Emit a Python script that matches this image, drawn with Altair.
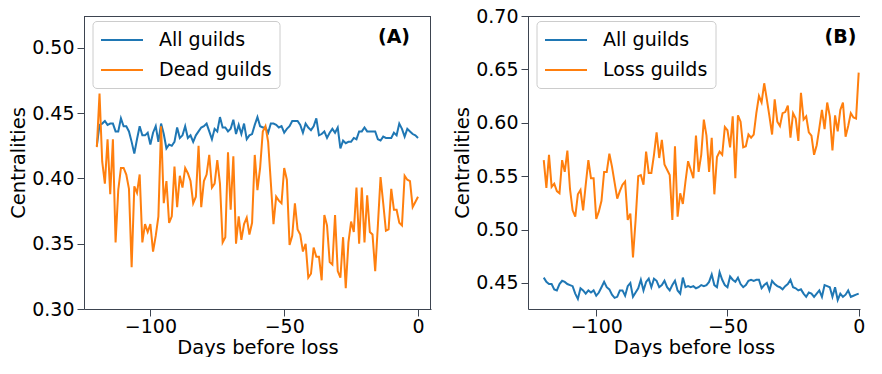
import altair as alt
import pandas as pd

days = list(range(-120, 1))

all_guilds_a = [
    0.425, 0.441, 0.442, 0.444, 0.441, 0.442, 0.442, 0.436, 0.436, 0.446,
    0.440, 0.440, 0.436, 0.428, 0.419, 0.430, 0.440, 0.433, 0.433, 0.435,
    0.426, 0.435, 0.440, 0.428, 0.442, 0.434, 0.423, 0.426, 0.425, 0.428,
    0.439, 0.431, 0.433, 0.440, 0.431, 0.433, 0.428, 0.433, 0.436, 0.439,
    0.440, 0.442, 0.436, 0.430, 0.438, 0.436, 0.447, 0.439, 0.439, 0.436,
    0.438, 0.445, 0.434, 0.441, 0.434, 0.442, 0.430, 0.433, 0.434, 0.441,
    0.447, 0.440, 0.439, 0.439, 0.435, 0.442, 0.442, 0.441, 0.439, 0.440,
    0.435, 0.438, 0.440, 0.444, 0.444, 0.444, 0.441, 0.435, 0.442, 0.439,
    0.437, 0.440, 0.446, 0.433, 0.434, 0.436, 0.431, 0.435, 0.438, 0.435,
    0.439, 0.423, 0.429, 0.427, 0.428, 0.428, 0.431, 0.430, 0.436, 0.436,
    0.439, 0.436, 0.436, 0.436, 0.436, 0.430, 0.429, 0.432, 0.431, 0.431,
    0.431, 0.435, 0.433, 0.442, 0.438, 0.432, 0.438, 0.436, 0.434, 0.433,
    0.431,
]

dead_guilds_a = [
    0.424, 0.465, 0.413, 0.396, 0.430, 0.388, 0.430, 0.351, 0.391, 0.408,
    0.408, 0.403, 0.392, 0.332, 0.394, 0.389, 0.403, 0.351, 0.365, 0.359,
    0.365, 0.344, 0.356, 0.371, 0.440, 0.381, 0.398, 0.366, 0.371, 0.409,
    0.378, 0.402, 0.393, 0.408, 0.404, 0.398, 0.381, 0.386, 0.425, 0.378,
    0.398, 0.403, 0.418, 0.393, 0.396, 0.414, 0.396, 0.351, 0.355, 0.420,
    0.376, 0.417, 0.350, 0.371, 0.353, 0.365, 0.370, 0.357, 0.366, 0.418,
    0.391, 0.408, 0.436, 0.440, 0.428, 0.397, 0.365, 0.386, 0.383, 0.381,
    0.408, 0.399, 0.349, 0.356, 0.381, 0.361, 0.357, 0.344, 0.350, 0.324,
    0.327, 0.347, 0.340, 0.340, 0.322, 0.372, 0.364, 0.336, 0.334, 0.372,
    0.329, 0.324, 0.355, 0.316, 0.351, 0.367, 0.359, 0.393, 0.350, 0.393,
    0.351, 0.387, 0.359, 0.357, 0.329, 0.364, 0.401, 0.381, 0.360, 0.361,
    0.392, 0.376, 0.376, 0.366, 0.364, 0.402, 0.399, 0.398, 0.378, 0.382,
    0.386,
]

all_guilds_b = [
    0.455, 0.451, 0.449, 0.449, 0.444, 0.443, 0.449, 0.452, 0.451, 0.449,
    0.448, 0.447, 0.440, 0.435, 0.445, 0.443, 0.440, 0.443, 0.441, 0.443,
    0.438, 0.441, 0.446, 0.451, 0.446, 0.444, 0.439, 0.436, 0.437, 0.443,
    0.443, 0.438, 0.447, 0.450, 0.437, 0.441, 0.445, 0.453, 0.443, 0.451,
    0.454, 0.446, 0.454, 0.452, 0.446, 0.448, 0.452, 0.446, 0.443, 0.448,
    0.452, 0.443, 0.440, 0.455, 0.446, 0.447, 0.446, 0.447, 0.445, 0.446,
    0.448, 0.447, 0.448, 0.451, 0.458, 0.448, 0.446, 0.460, 0.453, 0.448,
    0.446, 0.456, 0.453, 0.451, 0.455, 0.449, 0.446, 0.448, 0.452, 0.453,
    0.452, 0.453, 0.453, 0.445, 0.448, 0.450, 0.443, 0.452, 0.449, 0.447,
    0.446, 0.444, 0.447, 0.449, 0.453, 0.446, 0.445, 0.443, 0.444, 0.440,
    0.437, 0.441, 0.440, 0.437, 0.440, 0.443, 0.437, 0.448, 0.447, 0.446,
    0.437, 0.446, 0.434, 0.440, 0.437, 0.439, 0.443, 0.437, 0.438, 0.439,
    0.440,
]

loss_guilds_b = [
    0.565, 0.539, 0.570, 0.540, 0.543, 0.536, 0.534, 0.565, 0.554, 0.574,
    0.538, 0.518, 0.512, 0.533, 0.537, 0.518, 0.542, 0.565, 0.548, 0.548,
    0.510, 0.517, 0.527, 0.554, 0.554, 0.571, 0.559, 0.544, 0.529, 0.536,
    0.542, 0.545, 0.509, 0.515, 0.474, 0.509, 0.550, 0.551, 0.542, 0.573,
    0.553, 0.553, 0.570, 0.591, 0.567, 0.584, 0.561, 0.556, 0.551, 0.509,
    0.578, 0.512, 0.534, 0.524, 0.545, 0.564, 0.556, 0.548, 0.588, 0.554,
    0.570, 0.603, 0.588, 0.554, 0.586, 0.533, 0.568, 0.573, 0.570, 0.596,
    0.593, 0.577, 0.606, 0.548, 0.607, 0.601, 0.577, 0.578, 0.589, 0.586,
    0.589, 0.609, 0.625, 0.619, 0.637, 0.622, 0.606, 0.589, 0.622, 0.601,
    0.597, 0.609, 0.610, 0.616, 0.586, 0.609, 0.604, 0.583, 0.628, 0.603,
    0.606, 0.591, 0.588, 0.570, 0.579, 0.595, 0.612, 0.594, 0.619, 0.606,
    0.574, 0.607, 0.592, 0.612, 0.619, 0.587, 0.597, 0.609, 0.605, 0.604,
    0.647,
]

x_ticks = [-100, -50, 0]
y_ticks_a = [0.30, 0.35, 0.40, 0.45, 0.50]
y_ticks_b = [0.45, 0.50, 0.55, 0.60, 0.65, 0.70]

BLUE = "#1f77b4"
ORANGE = "#ff7f0e"
SPINE = "#3d4450"
FONT = "DejaVu Sans"


def make_df(name1, vals1, name2, vals2):
    return pd.DataFrame({
        "day": days + days,
        "value": vals1 + vals2,
        "series": [name1] * len(days) + [name2] * len(days),
    })


def panel(df, names, xdom, ydom, yticks, width, height, tag, tag_x, right_spine):
    lines = alt.Chart(df).mark_line(strokeWidth=2).encode(
        x=alt.X("day:Q",
                scale=alt.Scale(domain=xdom, nice=False, zero=False),
                axis=alt.Axis(values=x_ticks, format="d", title="Days before loss",
                              labelPadding=1, titlePadding=2)),
        y=alt.Y("value:Q",
                scale=alt.Scale(domain=ydom, nice=False, zero=False),
                axis=alt.Axis(values=yticks, format=".2f", title="Centralities",
                              labelPadding=3, titlePadding=3)),
        color=alt.Color("series:N",
                        scale=alt.Scale(domain=names, range=[BLUE, ORANGE]),
                        legend=alt.Legend(title=None, orient="none",
                                          legendX=8.5, legendY=5,
                                          symbolType="M-1,0H3", symbolSize=441,
                                          symbolStrokeWidth=2, labelFontSize=19,
                                          labelOffset=36, padding=7.5, rowPadding=8,
                                          fillColor="white", strokeColor="#cccccc",
                                          cornerRadius=4, labelColor="black")),
    )
    one = pd.DataFrame({"k": [0]})
    top = alt.Chart(one).mark_rule(color=SPINE, strokeWidth=1).encode(y=alt.value(0.5))
    label = alt.Chart(one).mark_text(fontSize=19, fontWeight="bold", align="center",
                                     baseline="middle", color="black").encode(
        x=alt.value(tag_x), y=alt.value(21), text=alt.value(tag))
    layers = [lines, top, label]
    if right_spine:
        layers.append(alt.Chart(one).mark_rule(color=SPINE, strokeWidth=1).encode(
            x=alt.value(width - 0.5)))
    return alt.layer(*layers).properties(width=width, height=height)


left = panel(make_df("All guilds", all_guilds_a, "Dead guilds", dead_guilds_a),
             ["All guilds", "Dead guilds"], [-124.8, 4.85], [0.30, 0.5244],
             y_ticks_a, 347, 293, "(A)", 310, True)
right = panel(make_df("All guilds", all_guilds_b, "Loss guilds", loss_guilds_b),
              ["All guilds", "Loss guilds"], [-126.0, 0.5], [0.4256, 0.70],
              y_ticks_b, 332, 293, "(B)", 312.5, False)

chart = alt.hconcat(left, right, spacing=20).resolve_scale(
    color="independent"
).properties(
    padding={"left": 0, "top": -1, "right": 0, "bottom": 0}
).configure(font=FONT).configure_axis(
    labelFontSize=19, titleFontSize=19.5, titleFontWeight="normal",
    labelColor="black", titleColor="black", domainColor=SPINE, tickColor=SPINE,
    tickSize=7, tickWidth=1, domainWidth=1, grid=False, labelFlush=False,
).configure_view(strokeWidth=0)

chart.save("out.html", embed_options={"renderer": "svg", "actions": False})
